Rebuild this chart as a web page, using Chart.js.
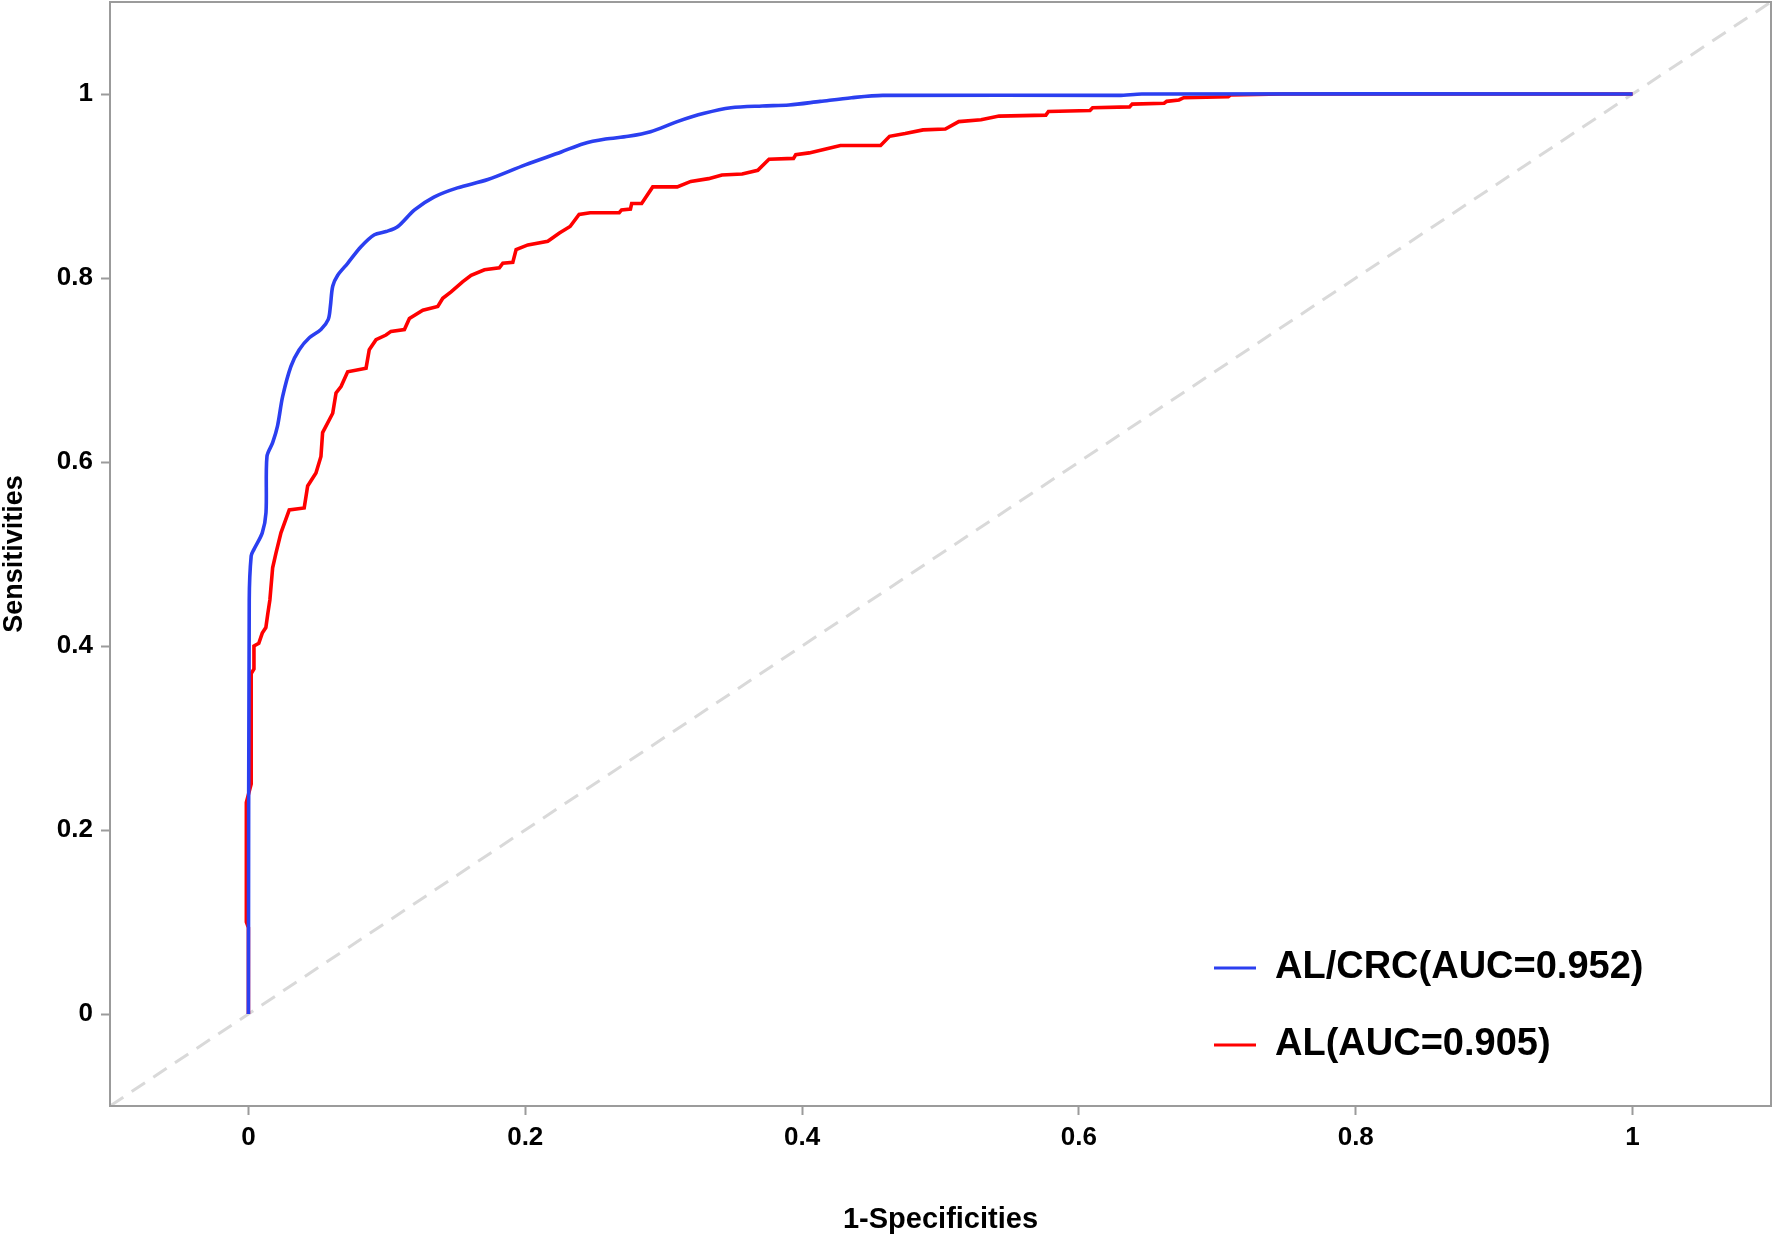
<!DOCTYPE html>
<html>
<head>
<meta charset="utf-8">
<script src="https://cdn.jsdelivr.net/npm/chart.js@4.4.1/dist/chart.umd.min.js"></script>
<style>
html,body{margin:0;padding:0;background:#ffffff;}
#wrap{width:1772px;height:1237px;position:relative;}
</style>
</head>
<body>
<div id="wrap"><canvas id="c"></canvas></div>
<script>
// ---- data ----
const seriesNames = ['AL/CRC(AUC=0.952)', 'AL(AUC=0.905)'];

const alcrcFpr = [0, 0.0006, 0.002, 0.004, 0.010, 0.0127, 0.0134, 0.0175, 0.021, 0.0247, 0.0307, 0.0367, 0.044, 0.0524, 0.0577, 0.0592, 0.0609, 0.0645, 0.0717, 0.0813, 0.091, 0.0994, 0.108, 0.12, 0.134, 0.151, 0.173, 0.2, 0.226, 0.242, 0.258, 0.2744, 0.2905, 0.3098, 0.3293, 0.3486, 0.3712, 0.3906, 0.4131, 0.4358, 0.4583, 0.629, 0.6454, 1];
const alcrcTpr = [0, 0.45, 0.498, 0.505, 0.523, 0.545, 0.606, 0.621, 0.639, 0.671, 0.704, 0.722, 0.735, 0.744, 0.755, 0.769, 0.791, 0.803, 0.816, 0.834, 0.847, 0.8505, 0.856, 0.874, 0.888, 0.898, 0.907, 0.923, 0.937, 0.946, 0.951, 0.954, 0.959, 0.970, 0.979, 0.985, 0.987, 0.988, 0.992, 0.996, 0.9985, 0.9985, 1, 1];

const alFpr = [0, 0, -0.0015, -0.0015, 0.002, 0.002, 0.004, 0.004, 0.0075, 0.01, 0.0126, 0.014, 0.0155, 0.0175, 0.0199, 0.0235, 0.0295, 0.0403, 0.0428, 0.0488, 0.0524, 0.0536, 0.0609, 0.0633, 0.0669, 0.0717, 0.085, 0.0873, 0.0922, 0.0994, 0.103, 0.1127, 0.1163, 0.126, 0.1368, 0.1404, 0.1464, 0.1549, 0.1609, 0.1705, 0.1813, 0.1838, 0.191, 0.1934, 0.2019, 0.2163, 0.2247, 0.2324, 0.2389, 0.2469, 0.2679, 0.2696, 0.276, 0.2769, 0.2841, 0.2921, 0.3098, 0.3196, 0.3325, 0.3421, 0.3567, 0.368, 0.3761, 0.3938, 0.3954, 0.4051, 0.4164, 0.4277, 0.4567, 0.4632, 0.4745, 0.4874, 0.5035, 0.5132, 0.5293, 0.5423, 0.5761, 0.578, 0.608, 0.6099, 0.6366, 0.6385, 0.6616, 0.6634, 0.6723, 0.6757, 0.7079, 0.7097, 0.747, 1];
const alTpr = [0, 0.094, 0.1, 0.23, 0.25, 0.37, 0.375, 0.40, 0.403, 0.414, 0.42, 0.435, 0.45, 0.485, 0.501, 0.523, 0.548, 0.55, 0.574, 0.588, 0.606, 0.632, 0.653, 0.675, 0.682, 0.698, 0.702, 0.722, 0.733, 0.738, 0.742, 0.744, 0.756, 0.765, 0.769, 0.778, 0.785, 0.796, 0.803, 0.809, 0.811, 0.816, 0.817, 0.831, 0.836, 0.840, 0.849, 0.856, 0.869, 0.871, 0.871, 0.874, 0.875, 0.881, 0.881, 0.899, 0.899, 0.905, 0.908, 0.912, 0.913, 0.917, 0.929, 0.930, 0.934, 0.936, 0.940, 0.944, 0.944, 0.954, 0.957, 0.961, 0.962, 0.970, 0.972, 0.976, 0.977, 0.981, 0.982, 0.985, 0.986, 0.989, 0.990, 0.992, 0.9935, 0.996, 0.997, 0.999, 1.0, 1];

const refLine = [-0.1, 1.1];
const xTickValues = [0, 0.2, 0.4, 0.6, 0.8, 1];
const xTickLabels = ['0', '0.2', '0.4', '0.6', '0.8', '1'];
const yTickValues = [0, 0.2, 0.4, 0.6, 0.8, 1];
const yTickLabels = ['0', '0.2', '0.4', '0.6', '0.8', '1'];
const xTitle = '1-Specificities';
const yTitle = 'Sensitivities';

// ---- styles ----
const BLUE = '#2b3ff0';
const RED = '#ff0000';
const REFCOLOR = '#d9d9d9';
const FRAME = '#9b9b9b';
const FONT = "'Liberation Sans', Arial, sans-serif";

const toPts = (xs, ys) => xs.map((x, i) => ({x: x, y: ys[i]}));

const framePlugin = {
  id: 'frame',
  afterDatasetsDraw(chart) {
    const a = chart.chartArea, ctx = chart.ctx;
    ctx.save();
    ctx.strokeStyle = FRAME;
    ctx.lineWidth = 2;
    ctx.strokeRect(a.left, a.top, a.right - a.left, a.bottom - a.top);
    ctx.restore();
  }
};

const legendPlace = {
  id: 'legendPlace',
  afterLayout(chart) {
    const lg = chart.legend;
    if (!lg) return;
    const a = chart.chartArea;
    lg.left = 1175;
    lg.top = 910;
    lg.right = a.right;
    lg.bottom = a.bottom;
  }
};

new Chart(document.getElementById('c'), {
  type: 'scatter',
  data: {
    datasets: [
      {
        label: seriesNames[0],
        data: toPts(alcrcFpr, alcrcTpr),
        showLine: true,
        borderColor: BLUE,
        backgroundColor: BLUE,
        borderWidth: 3.6,
        pointRadius: 0,
        tension: 0.3,
        fill: false
      },
      {
        label: seriesNames[1],
        data: toPts(alFpr, alTpr),
        showLine: true,
        borderColor: RED,
        backgroundColor: RED,
        borderWidth: 3.6,
        pointRadius: 0,
        tension: 0,
        fill: false
      },
      {
        label: 'reference',
        data: toPts(refLine, refLine),
        showLine: true,
        borderColor: REFCOLOR,
        backgroundColor: REFCOLOR,
        borderWidth: 3,
        borderDash: [16, 10],
        pointRadius: 0,
        fill: false
      }
    ]
  },
  options: {
    responsive: true,
    maintainAspectRatio: false,
    devicePixelRatio: 1,
    animation: false,
    layout: { padding: { top: 2, right: 1, left: 0, bottom: 0 } },
    plugins: {
      tooltip: { enabled: false },
      legend: {
        position: 'chartArea',
        align: 'start',
        labels: {
          boxWidth: 42,
          boxHeight: 3,
          padding: 39,
          color: '#000',
          font: { family: FONT, size: 38, weight: 'bold', lineHeight: 1 },
          filter: (item) => item.datasetIndex < 2,
          generateLabels: (chart) => Chart.defaults.plugins.legend.labels.generateLabels(chart).map(it => Object.assign(it, { lineWidth: 0, fillStyle: it.strokeStyle }))
        }
      }
    },
    scales: {
      x: {
        type: 'linear',
        min: -0.1,
        max: 1.1,
        afterFit: (s) => { s.height = 131; s.paddingLeft = 0; s.paddingRight = 0; },
        afterBuildTicks: (s) => { s.ticks = xTickValues.map(v => ({ value: v })); },
        ticks: {
          autoSkip: false,
          maxRotation: 0,
          padding: 7,
          color: '#000',
          font: { family: FONT, size: 26, weight: 'bold' },
          callback: (v, i) => xTickLabels[i]
        },
        grid: { display: true, drawOnChartArea: false, drawTicks: true, tickLength: 9, tickColor: FRAME, tickWidth: 2 },
        border: { display: false },
        title: {
          display: true,
          text: xTitle,
          color: '#000',
          font: { family: FONT, size: 29, weight: 'bold' },
          padding: { top: 0, bottom: 0 }
        }
      },
      y: {
        type: 'linear',
        min: -0.1,
        max: 1.1,
        afterFit: (s) => { s.width = 110; s.paddingTop = 0; s.paddingBottom = 0; },
        afterBuildTicks: (s) => { s.ticks = yTickValues.map(v => ({ value: v })); },
        ticks: {
          autoSkip: false,
          padding: 8,
          color: '#000',
          font: { family: FONT, size: 26, weight: 'bold' },
          callback: (v, i) => yTickLabels[i]
        },
        grid: { display: true, drawOnChartArea: false, drawTicks: true, tickLength: 9, tickColor: FRAME, tickWidth: 2 },
        border: { display: false },
        title: {
          display: true,
          text: yTitle,
          color: '#000',
          font: { family: FONT, size: 27, weight: 'bold', lineHeight: 1.1 },
          padding: { top: 0, bottom: 0 }
        }
      }
    }
  },
  plugins: [framePlugin, legendPlace]
});
</script>
</body>
</html>
